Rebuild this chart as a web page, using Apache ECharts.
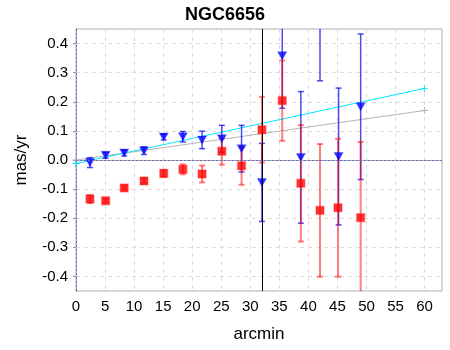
<!DOCTYPE html>
<html>
<head>
<meta charset="utf-8">
<script src="https://cdn.jsdelivr.net/npm/echarts@6/dist/echarts.min.js"></script>
<style>
  html, body { margin: 0; padding: 0; background: #fff; }
  #main { width: 450px; height: 350px; }
</style>
</head>
<body>
<div id="main"></div>
<script>
// red squares
var redX = [2.4, 5.1, 8.3, 11.7, 15.1, 18.4, 21.7, 25.1, 28.5, 32.0, 35.5, 38.7, 42.0, 45.1, 49.0];
var redY = [-0.134, -0.140, -0.096, -0.072, -0.046, -0.032, -0.048, 0.030, -0.020, 0.104, 0.204, -0.080, -0.173, -0.164, -0.198];
var redErr = [0.014, 0.006, 0.006, 0.008, 0.012, 0.017, 0.029, 0.046, 0.065, 0.113, 0.138, 0.200, 0.228, 0.237, 0.260];

// blue triangles
var blueX = [2.4, 5.1, 8.3, 11.7, 15.1, 18.4, 21.7, 25.1, 28.5, 32.0, 35.5, 38.7, 42.0, 45.2, 49.0];
var blueY = [-0.009, 0.016, 0.024, 0.032, 0.079, 0.080, 0.069, 0.073, 0.039, -0.077, 0.358, 0.009, 0.520, 0.012, 0.183];
var blueErr = [0.017, 0.010, 0.010, 0.013, 0.010, 0.018, 0.030, 0.046, 0.080, 0.134, 0.180, 0.226, 0.248, 0.235, 0.250];

// fitted lines (endpoints)
var fitX = [0, 60];
var cyanY = [-0.012, 0.246];
var grayY = [0.0, 0.170];

var cutX = 32;
var xTicks = [0, 5, 10, 15, 20, 25, 30, 35, 40, 45, 50, 55, 60];

function pts(xs, ys) {
  return xs.map(function (x, i) { return [x, ys[i]]; });
}
function errData(xs, ys, es) {
  return xs.map(function (x, i) { return [x, ys[i] - es[i], ys[i] + es[i]]; });
}
function errSeries(data, color, width) {
  return {
    type: 'custom',
    clip: true,
    silent: true,
    data: data,
    renderItem: function (params, api) {
      var lo = api.coord([api.value(0), api.value(1)]);
      var hi = api.coord([api.value(0), api.value(2)]);
      var w = 3;
      var style = { stroke: color, lineWidth: width };
      return {
        type: 'group',
        children: [
          { type: 'line', shape: { x1: lo[0], y1: lo[1], x2: hi[0], y2: hi[1] }, style: style },
          { type: 'line', shape: { x1: lo[0] - w, y1: lo[1], x2: lo[0] + w, y2: lo[1] }, style: style },
          { type: 'line', shape: { x1: hi[0] - w, y1: hi[1], x2: hi[0] + w, y2: hi[1] }, style: style }
        ]
      };
    },
    z: 3
  };
}

var plus = 'path://M4.4,0h1.2v10h-1.2z M0,4.4h10v1.2h-10z';
var font = '"Liberation Sans", Arial, sans-serif';

var chart = echarts.init(document.getElementById('main'));
chart.setOption({
  animation: false,
  title: {
    text: 'NGC6656',
    left: 'center',
    top: 1,
    textStyle: { fontFamily: font, fontSize: 18, fontWeight: 'bold', color: '#000' }
  },
  grid: {
    left: 76, right: 8, top: 29, bottom: 59,
    show: true, borderColor: '#aaa', borderWidth: 1
  },
  xAxis: {
    type: 'value',
    min: 0, max: 63, interval: 5,
    name: 'arcmin', nameLocation: 'middle', nameGap: 35,
    nameTextStyle: { fontFamily: font, fontSize: 17, color: '#000' },
    axisLine: { show: true, lineStyle: { color: '#aaa' } },
    axisTick: { show: false },
    axisLabel: {
      fontFamily: font, fontSize: 15, color: '#000', margin: 8,
      showMaxLabel: false,
      formatter: function (v) { return xTicks.indexOf(v) >= 0 ? String(v) : ''; }
    },
    splitLine: { show: true, lineStyle: { color: '#dcdcdc', type: [4, 4] } }
  },
  yAxis: {
    type: 'value',
    min: -0.45, max: 0.45, splitNumber: 9,
    name: 'mas/yr', nameLocation: 'middle', nameGap: 46,
    nameTextStyle: { fontFamily: font, fontSize: 17, color: '#000' },
    axisLine: { show: true, lineStyle: { color: '#6a6ac8', type: [2, 2] } },
    axisTick: { show: true, length: 3, lineStyle: { color: '#999' } },
    axisLabel: {
      fontFamily: font, fontSize: 15, color: '#000', margin: 8,
      showMinLabel: false, showMaxLabel: false,
      formatter: function (v) { return v.toFixed(1); }
    },
    splitLine: { show: true, lineStyle: { color: '#dcdcdc', type: [4, 4] } }
  },
  series: [
    {
      type: 'line',
      data: pts(fitX, grayY),
      symbol: plus,
      symbolSize: 7,
      showSymbol: true,
      itemStyle: { color: '#b4b4b4' },
      lineStyle: { color: '#b4b4b4', width: 1 },
      silent: true,
      z: 2,
      markLine: {
        silent: true,
        symbol: 'none',
        label: { show: false },
        data: [
          { xAxis: cutX, lineStyle: { color: '#000', width: 1, type: 'solid' } },
          { yAxis: 0, lineStyle: { color: '#6a6ac8', width: 1, type: [2, 2] } }
        ]
      }
    },
    {
      type: 'line',
      data: pts(fitX, cyanY),
      symbol: plus,
      symbolSize: 7,
      itemStyle: { color: '#00e5ff' },
      lineStyle: { color: '#00e5ff', width: 1 },
      silent: true,
      z: 2
    },
    errSeries(errData(blueX, blueY, blueErr), 'rgba(0,0,230,0.7)', 1.5),
    errSeries(errData(redX, redY, redErr), 'rgba(255,0,0,0.5)', 2),
    {
      type: 'scatter',
      data: pts(blueX, blueY),
      symbol: 'triangle',
      symbolRotate: 180,
      symbolSize: [9, 8],
      itemStyle: { color: '#0000ff', borderColor: 'rgba(0,0,255,0.3)', borderWidth: 1 },
      clip: true,
      z: 4
    },
    {
      type: 'scatter',
      data: pts(redX, redY),
      symbol: 'rect',
      symbolSize: 8,
      itemStyle: { color: '#ff0000', borderColor: 'rgba(255,0,0,0.35)', borderWidth: 1.5 },
      clip: true,
      z: 5
    }
  ]
});
</script>
</body>
</html>
